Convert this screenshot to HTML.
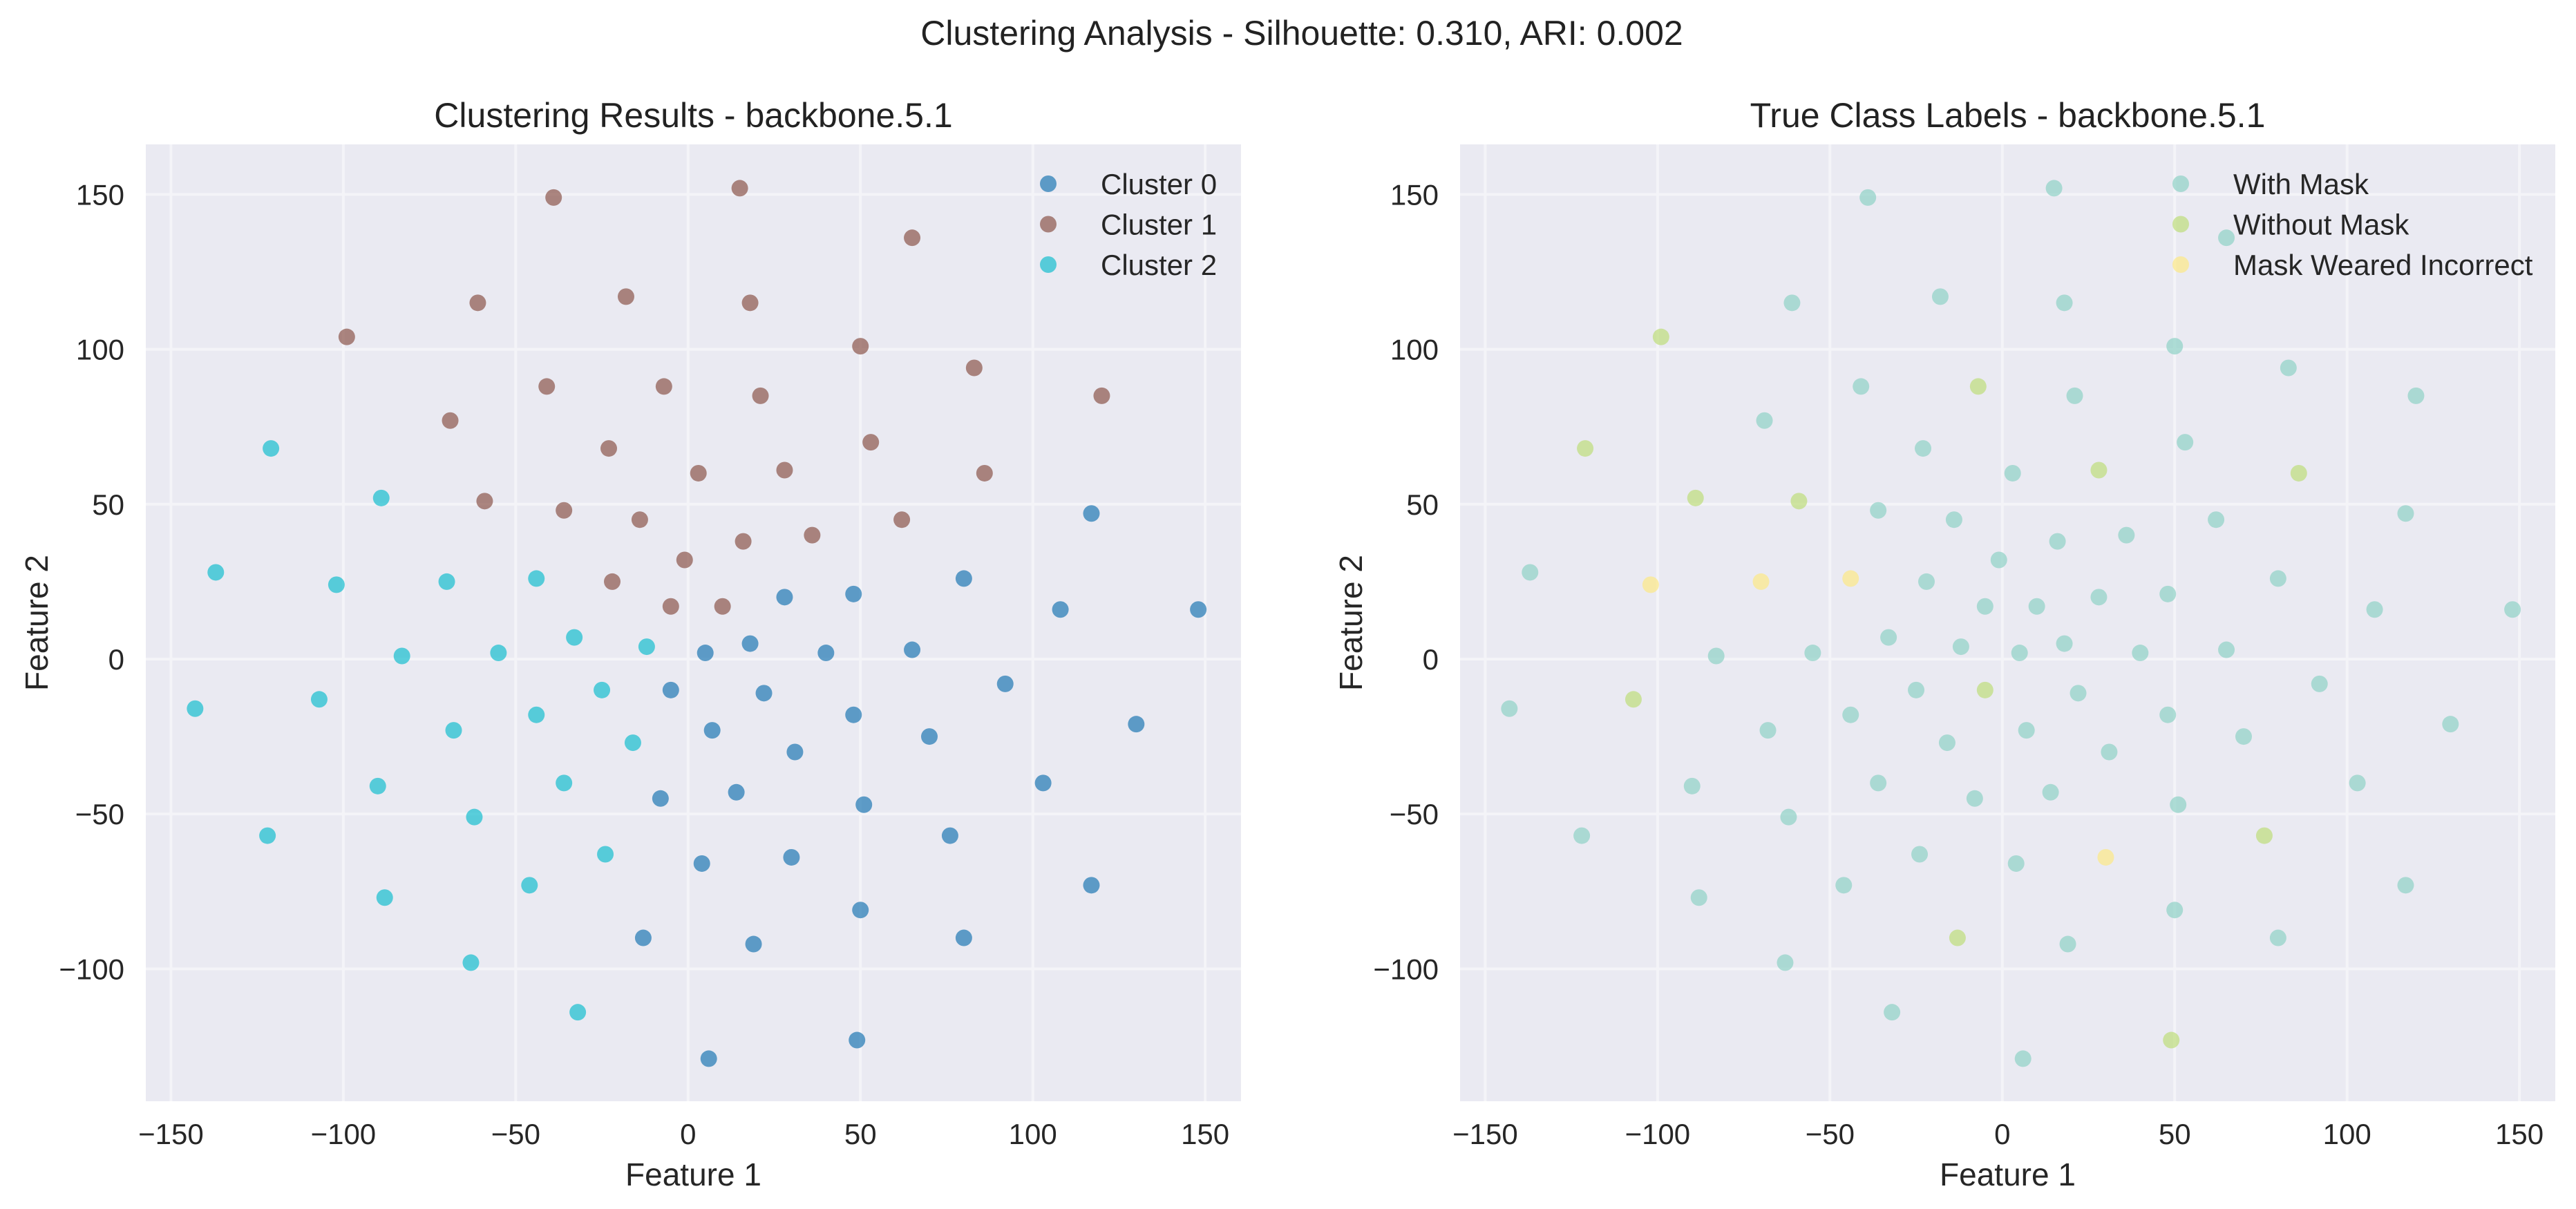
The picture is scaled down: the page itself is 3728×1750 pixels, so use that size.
<!DOCTYPE html>
<html><head><meta charset="utf-8"><style>
html,body{margin:0;padding:0;background:#fff;}
svg{display:block;font-family:"Liberation Sans",Arial,sans-serif;}
</style></head><body>
<svg id="fig" width="3728" height="1750" viewBox="0 0 3728 1750" xmlns="http://www.w3.org/2000/svg">
<text x="1884" y="65" font-size="50" text-anchor="middle" fill="#222">Clustering Analysis - Silhouette: 0.310, ARI: 0.002</text>
<g id="left"></g>
<g id="right"></g>
</svg>
<script>
// point coordinates (Feature 1, Feature 2)
const xs = [117,80,48,28,18,5,40,65,108,148,92,-5,22,7,48,70,31,130,103,14,-8,51,76,30,4,50,117,80,-13,19,49,6,
 15,-39,65,-61,-18,18,-99,50,83,-41,-7,21,120,-69,-23,53,3,28,86,-59,-36,-14,62,16,36,-1,-22,-5,10,
 -121,-89,-137,-102,-70,-44,-33,-12,-83,-55,-25,-143,-107,-44,-16,-68,-36,-90,-62,-122,-24,-46,-88,-63,-32];
const ys = [47,26,21,20,5,2,2,3,16,16,-8,-10,-11,-23,-18,-25,-30,-21,-40,-43,-45,-47,-57,-64,-66,-81,-73,-90,-90,-92,-123,-129,
 152,149,136,115,117,115,104,101,94,88,88,85,85,77,68,70,60,61,60,51,48,45,45,38,40,32,25,17,17,
 68,52,28,24,25,26,7,4,1,2,-10,-16,-13,-18,-27,-23,-40,-41,-51,-57,-63,-73,-77,-98,-114];
const clusterIds = [0,0,0,0,0,0,0,0,0,0,0,0,0,0,0,0,0,0,0,0,0,0,0,0,0,0,0,0,0,0,0,0,
 1,1,1,1,1,1,1,1,1,1,1,1,1,1,1,1,1,1,1,1,1,1,1,1,1,1,1,1,1,
 2,2,2,2,2,2,2,2,2,2,2,2,2,2,2,2,2,2,2,2,2,2,2,2,2];
const classIds = [0,0,0,0,0,0,0,0,0,0,0,1,0,0,0,0,0,0,0,0,0,0,1,2,0,0,0,0,1,0,1,0,
 0,0,0,0,0,0,1,0,0,0,1,0,0,0,0,0,0,1,1,1,0,0,0,0,0,0,0,0,0,
 1,1,0,2,2,2,0,0,0,0,0,0,1,0,0,0,0,0,0,0,0,0,0,0,0];
const clusterNames = ["Cluster 0","Cluster 1","Cluster 2"];
const classNames = ["With Mask","Without Mask","Mask Weared Incorrect"];
const xTicks = [-150,-100,-50,0,50,100,150];
const yTicks = [-100,-50,0,50,100,150];
const xTickLabels = ["\u2212150","\u2212100","\u221250","0","50","100","150"];
const yTickLabels = ["\u2212100","\u221250","0","50","100","150"];

const NS="http://www.w3.org/2000/svg";
function mk(tag, attrs, parent){const e=document.createElementNS(NS,tag);for(const k in attrs)e.setAttribute(k,attrs[k]);parent.appendChild(e);return e;}

function panel(g, left, title, colors, opac, groups, names, legendX, dataName){
  const L=left, R=left+1585, T=209, B=1594;
  const sx=v=>L+ (v+157.3)*(1585/317.7);
  const sy=v=>954-v*4.484;
  const bg=mk('rect',{x:L,y:T,width:R-L,height:B-T,fill:'#eaeaf2'},g);
  
  
  xTicks.forEach((t,i)=>{
    const ln=mk('line',{x1:sx(t),x2:sx(t),y1:T,y2:B,stroke:'#f4f4f8','stroke-width':4},g);
    
    
    const tx=mk('text',{x:sx(t),y:1656,'font-size':42,'text-anchor':'middle',fill:'#262626'},g);
    tx.textContent=xTickLabels[i];
    
    
  });
  yTicks.forEach((t,i)=>{
    const ln=mk('line',{x1:L,x2:R,y1:sy(t),y2:sy(t),stroke:'#f4f4f8','stroke-width':4},g);
    
    
    const tx=mk('text',{x:L-31,y:sy(t)+15,'font-size':42,'text-anchor':'end',fill:'#262626'},g);
    tx.textContent=yTickLabels[i];
    
    
  });
  const ti=mk('text',{x:(L+R)/2,y:184,'font-size':50,'text-anchor':'middle',fill:'#222'},g);
  ti.textContent=title;
  
  
  const xl=mk('text',{x:(L+R)/2,y:1716,'font-size':46,'text-anchor':'middle',fill:'#262626'},g);
  xl.textContent='Feature 1';
  
  
  const yl=mk('text',{x:0,y:0,'font-size':46,'text-anchor':'middle',fill:'#262626',transform:`translate(${L-142},${(T+B)/2}) rotate(-90)`},g);
  yl.textContent='Feature 2';
  
  
  for(let c=0;c<3;c++){
    for(let i=0;i<xs.length;i++){
      if(groups[i]!==c) continue;
      const p=mk('circle',{cx:sx(xs[i]),cy:sy(ys[i]),r:12,fill:colors[c],'fill-opacity':opac},g);
      
      
    }
  }
  names.forEach((n,c)=>{
    const yy=266+c*58.5;
    const m=mk('circle',{cx:legendX,cy:yy,r:12,fill:colors[c],'fill-opacity':opac},g);
    
    
    const t=mk('text',{x:legendX+76,y:yy+15,'font-size':42,fill:'#262626'},g);
    t.textContent=n;
    
    
  });
}
panel(document.getElementById('left'),211,'Clustering Results - backbone.5.1',['#1f77b4','#8c564b','#17becf'],0.7,clusterIds,clusterNames,1517,'cluster');
panel(document.getElementById('right'),2113,'True Class Labels - backbone.5.1',['#8fd1c6','#bddd7a','#fce886'],0.7,classIds,classNames,3156,'class');
</script>
</body></html>
